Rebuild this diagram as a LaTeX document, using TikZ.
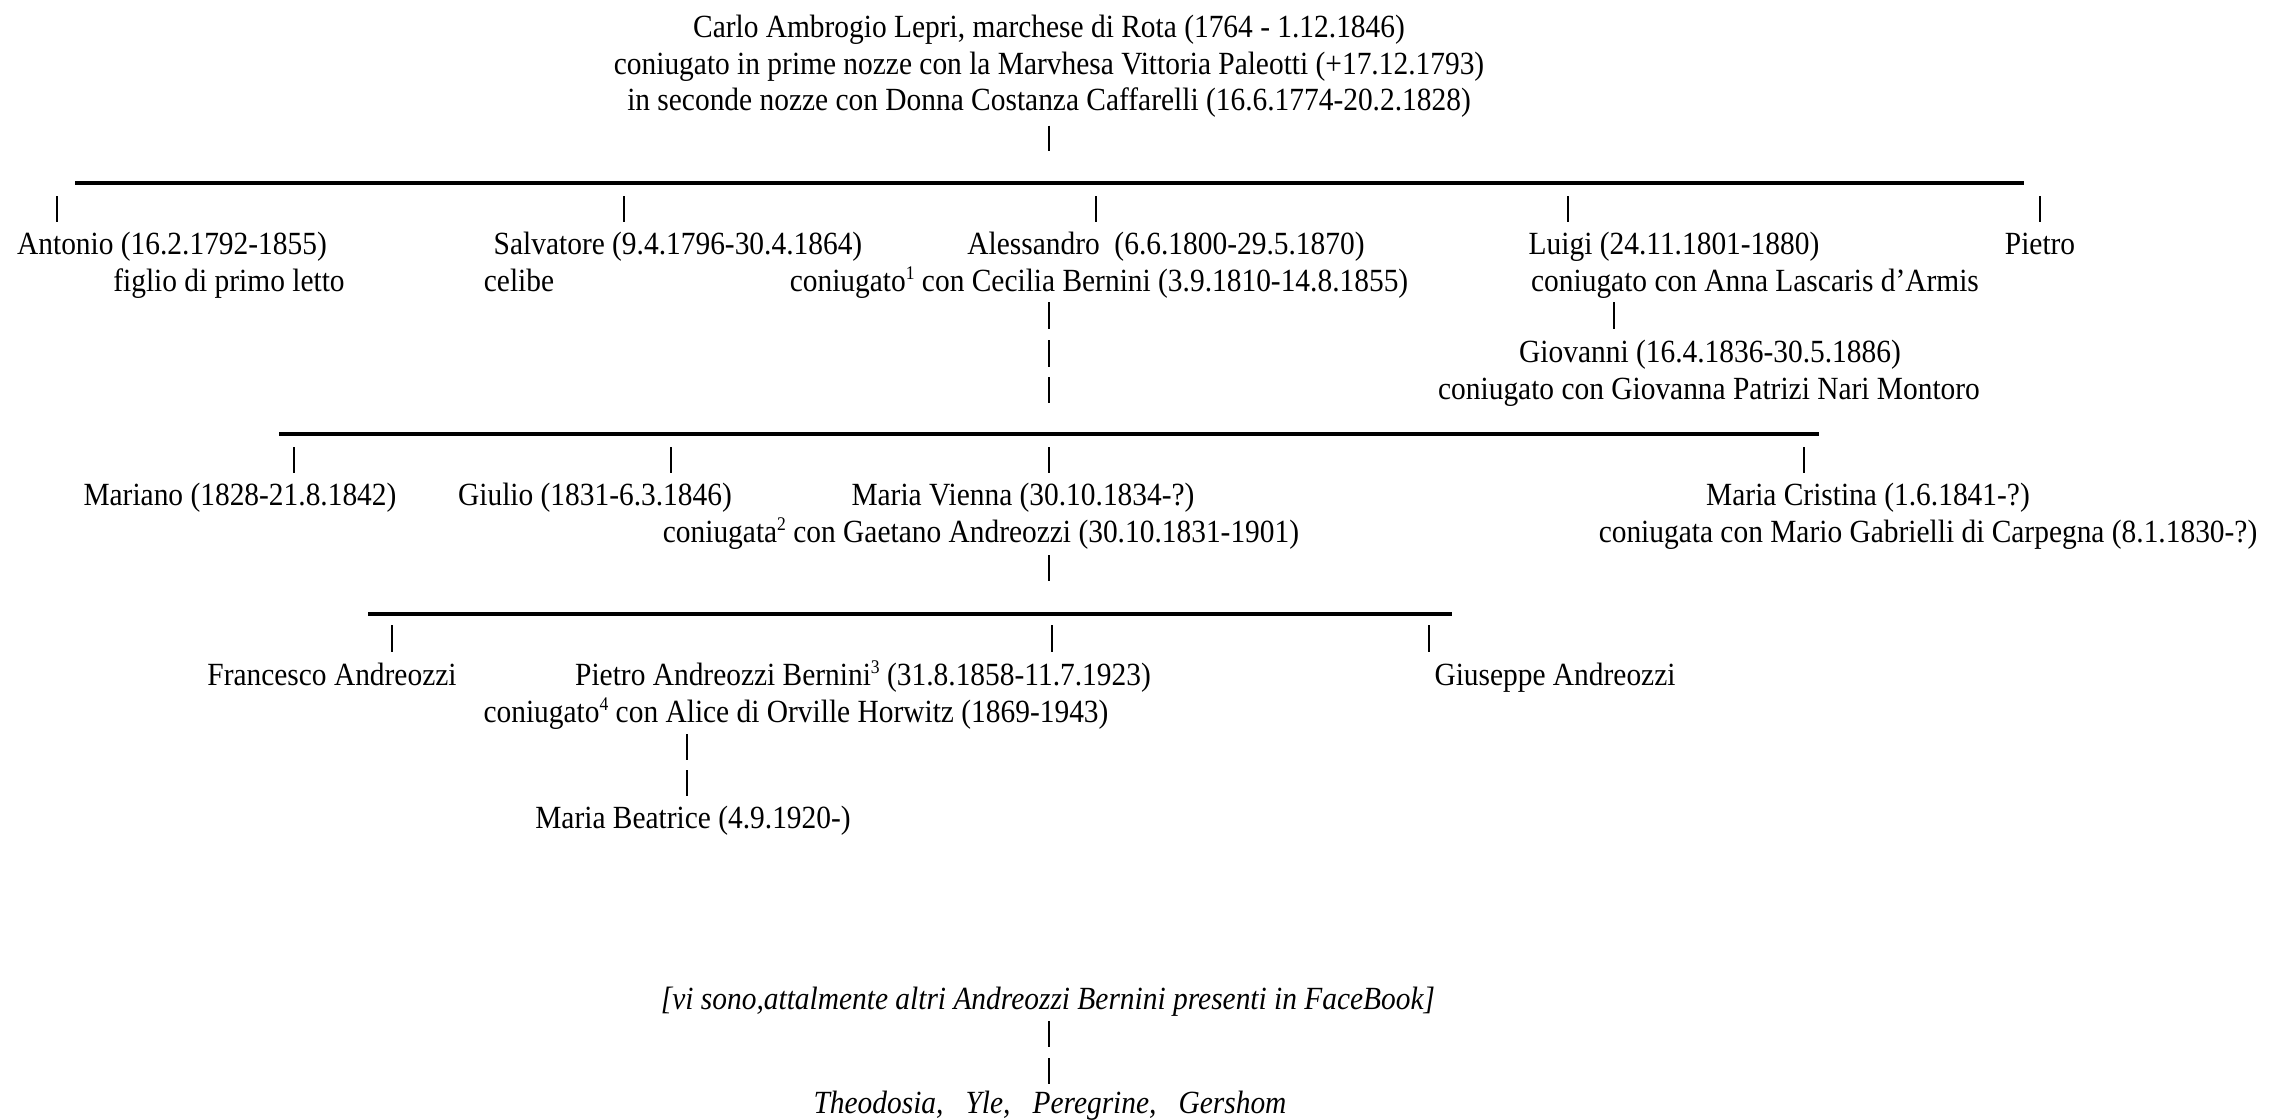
\documentclass[tikz,border=0pt]{standalone}
\usepackage{fontspec}
\setmainfont[FakeStretch=0.91]{Liberation Serif}
\usepackage{tikz}
\usetikzlibrary{
  positioning,
  calc
}
\newcommand{\apice}[1]{\raisebox{0.8ex}{\fontsize{5.5}{5.5}\selectfont #1}}
\tikzset{
  persona/.style={
    anchor=base, inner sep=0pt,
    font=\fontsize{9.2}{10.5}\selectfont
  },
  stanga/.style={line width=0.45pt, black},
  linea/.style={line width=0.9pt, black}
}

\begin{document}
\begin{tikzpicture}[
  x=0.1mm, y=-0.1mm,
  nota/.style={persona},
  fb/.style={persona, font=\fontsize{9.2}{10.5}\selectfont\itshape}
]
\useasboundingbox (0,0) rectangle (2291,1119);

% Capostipite
\node[persona, anchor=north, align=center] (carlo) at (1049,14)
  {Carlo Ambrogio Lepri, marchese di Rota (1764 - 1.12.1846)\\
   coniugato in prime nozze con la Marvhesa Vittoria Paleotti (+17.12.1793)\\
   in seconde nozze con Donna Costanza Caffarelli (16.6.1774-20.2.1828)};
\draw[stanga] ($(carlo.south)+(0,7)$) -- ++(0,25);

% Figli
\coordinate (g1-sx) at (75,183);
\coordinate (g1-dx) at (2024,183);
\draw[linea] (g1-sx) -- (g1-dx);
\foreach \nome/\x in {antonio/57, salvatore/624, alessandro/1096, luigi/1568, pietro/2040}{
  \coordinate (t-\nome) at (\x,196);
  \draw[stanga] (t-\nome) -- ++(0,26);
}

\node[persona] (antonio) at (172,254) {Antonio (16.2.1792-1855)};
\node[persona] (salvatore) at (678,254) {Salvatore (9.4.1796-30.4.1864)};
\node[persona] (alessandro) at (1166,254) {Alessandro\ \ (6.6.1800-29.5.1870)};
\node[persona] (luigi) at (1674,254) {Luigi (24.11.1801-1880)};
\node[persona] (pietro) at (2040,254) {Pietro};

\node[nota] (antonio-n) at (229,291) {figlio di primo letto};
\node[nota] (salvatore-n) at (519,291) {celibe};
\node[nota] (alessandro-n) at (1099,291) {coniugato\apice{1} con Cecilia Bernini (3.9.1810-14.8.1855)};
\node[nota] (luigi-n) at (1755,291) {coniugato con Anna Lascaris d’Armis};

% Ramo di Luigi
\coordinate (luigi-giu) at (1614,302);
\draw[stanga] (luigi-giu) -- ++(0,27);
\node[persona] (giovanni) at (1710,362) {Giovanni (16.4.1836-30.5.1886)};
\node[nota] (giovanni-n) at (1709,399) {coniugato con Giovanna Patrizi Nari Montoro};

% Figli di Alessandro
\coordinate (ale-giu) at (1049,302);
\draw[stanga] (ale-giu) -- ++(0,27) ++(0,11) -- ++(0,27) ++(0,10) -- ++(0,26);
\coordinate (g2-sx) at (279,434);
\coordinate (g2-dx) at (1819,434);
\draw[linea] (g2-sx) -- (g2-dx);
\foreach \nome/\x in {mariano/294, giulio/671, vienna/1049, cristina/1804}{
  \coordinate (t-\nome) at (\x,447);
  \draw[stanga] (t-\nome) -- ++(0,26);
}

\node[persona] (mariano) at (240,505) {Mariano (1828-21.8.1842)};
\node[persona] (giulio) at (595,505) {Giulio (1831-6.3.1846)};
\node[persona] (vienna) at (1023,505) {Maria Vienna (30.10.1834-?)};
\node[persona] (cristina) at (1868,505) {Maria Cristina (1.6.1841-?)};

\node[nota] (vienna-n) at (981,542) {coniugata\apice{2} con Gaetano Andreozzi (30.10.1831-1901)};
\node[nota] (cristina-n) at (1928,542) {coniugata con Mario Gabrielli di Carpegna (8.1.1830-?)};

% Figli di Maria Vienna
\coordinate (vienna-giu) at (1049,555);
\draw[stanga] (vienna-giu) -- ++(0,26);
\coordinate (g3-sx) at (368,614);
\coordinate (g3-dx) at (1452,614);
\draw[linea] (g3-sx) -- (g3-dx);
\foreach \nome/\x in {francesco/392, pietroab/1052, giuseppe/1429}{
  \coordinate (t-\nome) at (\x,625);
  \draw[stanga] (t-\nome) -- ++(0,27);
}

\node[persona] (francesco) at (332,685) {Francesco Andreozzi};
\node[persona] (pietroab) at (863,685) {Pietro Andreozzi Bernini\apice{3} (31.8.1858-11.7.1923)};
\node[persona] (giuseppe) at (1555,685) {Giuseppe Andreozzi};
\node[nota] (pietroab-n) at (796,722) {coniugato\apice{4} con Alice di Orville Horwitz (1869-1943)};

\coordinate (pab-giu) at (687,734);
\draw[stanga] (pab-giu) -- ++(0,26) ++(0,10) -- ++(0,26);
\node[persona] (beatrice) at (693,828) {Maria Beatrice (4.9.1920-)};

% Discendenti attuali
\node[fb] (facebook) at (1048,1009) {[vi sono,attalmente altri Andreozzi Bernini presenti in FaceBook]};
\coordinate (fb-giu) at (1049,1021);
\draw[stanga] (fb-giu) -- ++(0,26) ++(0,11) -- ++(0,26);
\node[fb] (nipoti) at (1050,1113) {Theodosia,\ \ \ Yle,\ \ \ Peregrine,\ \ \ Gershom};

\end{tikzpicture}
\end{document}
